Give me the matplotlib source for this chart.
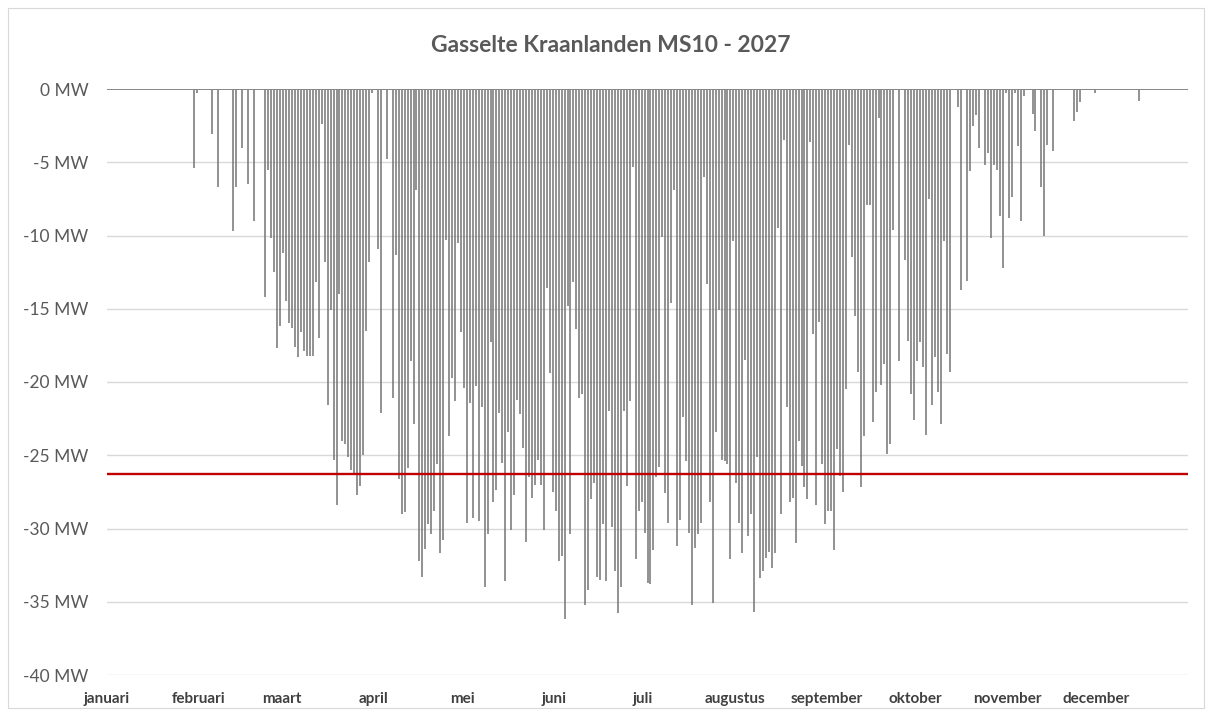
import matplotlib
matplotlib.use('Agg')
import matplotlib.pyplot as plt
import numpy as np
from matplotlib.patches import Rectangle

# Daily minimum power (MW) per month, 2027
jan = [0, 0, 0, 0, 0, 0, 0, 0, 0, 0, 0, 0, 0, 0, 0, 0, 0, 0, 0, 0,
       0, 0, 0, 0, 0, 0, 0, 0, 0, -5.4, -0.3]
feb = [0, 0, 0, 0, -3.1, 0, -6.7, 0, 0, 0, 0, -9.7, -6.7, 0, -4.0, 0, -6.5, 0, -9.0, 0,
       0, 0, -14.2, -5.5, -10.2, -12.5, -17.7, -16.2]
mar = [-11.2, -14.5, -16.0, -16.3, -17.6, -18.3, -16.6, -17.9, -18.2, -18.2, -18.2, -13.2,
       -17.0, -2.4, -11.8, -21.6, -15.1, -25.3, -28.4, -14.0, -24.0, -24.2, -25.1, -26.0,
       -26.3, -27.7, -27.1, -25.0, -16.5, -11.8, -0.3]
apr = [0, -10.9, -22.1, 0, -4.8, 0, -21.1, -11.3, -26.6, -29.0, -28.9, -25.9, -18.6, -22.9,
       -6.9, -32.2, -33.3, -31.4, -29.7, -30.4, -28.8, -25.6, -31.7, -30.8, -10.3, -23.7,
       -19.7, -21.3, -10.5, -16.6]
may = [-20.4, -29.6, -21.4, -29.3, -20.3, -29.5, -21.7, -34.0, -30.4, -17.3, -28.2, -27.4,
       -22.1, -25.5, -33.6, -23.4, -30.1, -27.7, -21.2, -22.2, -24.5, -30.9, -26.5, -27.9,
       -27.0, -25.3, -27.0, -30.1, -13.6, -19.4, -27.5]
jun = [-28.8, -32.2, -31.9, -36.2, -14.8, -30.4, -13.2, -16.4, -21.1, -20.8, -35.2, -34.2,
       -28.0, -26.9, -33.3, -33.5, -29.7, -33.6, -22.0, -29.9, -32.9, -35.8, -34.0, -22.0,
       -27.1, -21.3, -5.3, -32.1, -28.8, -28.2]
jul = [-30.3, -33.7, -33.8, -31.5, -26.5, -25.8, -10.1, -27.6, -29.6, -14.6, -6.9, -31.2,
       -29.4, -22.4, -25.4, -30.3, -35.2, -31.3, -30.4, -29.6, -6.0, -13.3, -28.2, -35.1,
       -23.4, -15.1, -25.3, -25.4, -25.6, -32.1, -10.4]
aug = [-26.9, -29.6, -31.7, -18.5, -30.5, -29.0, -35.7, -25.1, -33.4, -32.9, -32.0, -31.6,
       -32.7, -31.7, -9.5, -29.0, -3.5, -21.7, -28.2, -27.9, -31.0, -24.0, -25.7, -27.2,
       -28.0, -3.6, -16.7, -28.4, -15.9, -25.6, -29.7]
sep = [-28.8, -28.8, -31.5, -24.6, -26.4, -27.5, -20.5, -3.8, -11.5, -15.5, -19.3, -27.2,
       -23.7, -7.9, -7.9, -22.7, -20.7, -2.0, -20.2, -18.8, -24.9, -24.2, -9.6, 0, -18.6,
       0, -11.7, -17.2, -20.8, -22.6]
oct_ = [-18.6, -17.3, -19.0, -23.6, -7.5, -21.6, -18.3, -20.7, -22.9, -10.4, -18.1, -19.3,
        0, 0, -1.2, -13.7, 0, -13.1, -5.6, -2.5, -1.8, -4.0, 0, -5.2, -4.4, -10.2, -5.2,
        -5.5, -8.7, -12.2, -0.3]
nov = [-8.8, -7.4, -0.3, -3.9, -9.0, -0.5, 0, 0, -1.7, -2.9, 0, -6.7, -10.0, -3.8, 0, -4.2,
       0, 0, 0, 0, 0, 0, -2.2, -1.6, -0.9, 0, 0, 0, 0, -0.3]
dec = [0, 0, 0, 0, 0, 0, 0, 0, 0, 0, 0, 0, 0, 0, -0.8, 0, 0, 0, 0, 0,
       0, 0, 0, 0, 0, 0, 0, 0, 0, 0, 0]

month_labels = ['januari', 'februari', 'maart', 'april', 'mei', 'juni', 'juli',
                'augustus', 'september', 'oktober', 'november', 'december']
limit_mw = -26.3
yticks = [0, -5, -10, -15, -20, -25, -30, -35, -40]
title = 'Gasselte Kraanlanden MS10 - 2027'

monthly = [jan, feb, mar, apr, may, jun, jul, aug, sep, oct_, nov, dec]
values = np.array([v for m in monthly for v in m], dtype=float)
n_days = len(values)
days = np.arange(n_days) + 0.5
month_starts = np.concatenate([[0], np.cumsum([len(m) for m in monthly])[:-1]])

W, H = 1212, 716
fig = plt.figure(figsize=(W / 100, H / 100), dpi=100)
fig.patch.set_facecolor('white')
fig.patches.append(Rectangle((8 / W, 8 / H), (1204 - 8) / W, (708 - 8) / H,
                             transform=fig.transFigure, fill=False,
                             edgecolor='#d9d9d9', lw=0.8))

left, right, top, bottom = 107, 1188, 89, 675
ax = fig.add_axes([left / W, 1 - bottom / H, (right - left) / W, (bottom - top) / H])
ax.set_xlim(0, n_days)
ax.set_ylim(-40, 0)

for y in yticks[1:]:
    ax.axhline(y, color='#d9d9d9', lw=1.0, zorder=0)

mask = values != 0
ax.vlines(days[mask], values[mask], 0, color='#747474', lw=1.1, zorder=2)
ax.axhline(0, color='#868686', lw=1.4, zorder=3)
ax.axhline(limit_mw, color='#c00000', lw=1.7, zorder=4)

for s in ax.spines.values():
    s.set_visible(False)

ax.set_yticks(yticks)
ax.set_yticklabels([f'{v} MW' for v in yticks], fontfamily='Lato', fontsize=12.5,
                   color='#595959')
ax.tick_params(axis='y', length=0, pad=13.5)

ax.set_xticks(month_starts)
ax.set_xticklabels(month_labels, fontfamily='Lato', fontweight='bold', fontsize=11,
                   color='#404040')
ax.tick_params(axis='x', length=0, pad=12)

fig.text(611 / W, 1 - 45 / H, title, ha='center', va='center', fontfamily='Lato',
         fontweight='bold', fontsize=16.5, color='#595959')

fig.savefig('out.png', dpi=100)
